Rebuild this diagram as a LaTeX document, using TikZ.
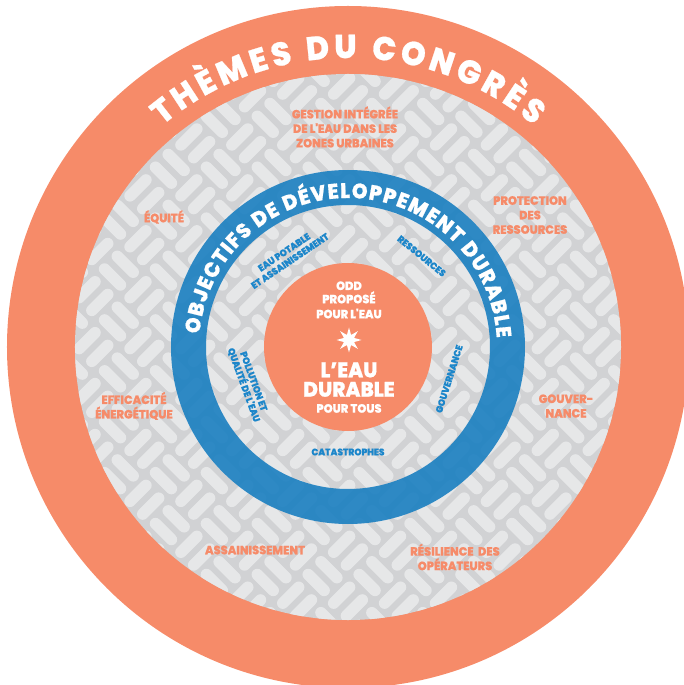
\documentclass[tikz,border=0pt]{standalone}
\usepackage{fontspec}
\setmainfont{Poppins}
\newfontfamily\heavy{Poppins ExtraBold}[FakeStretch=0.95,FakeBold=0.7]
\usetikzlibrary{decorations.text,shapes.geometric}
\definecolor{ora}{HTML}{F68B69}
\definecolor{bluering}{HTML}{1A7FC1}
\definecolor{bluetext}{HTML}{1C86CA}
\definecolor{graybg}{HTML}{D1D2D4}
\definecolor{pillc}{HTML}{E6E7E8}
\newcommand\pillgrid[1]{%
  \begin{scope}[rotate=45]
  \foreach \i in {-8,...,8}{\foreach \j in {-8,...,8}{%
    \pgfmathtruncatemacro\pp{mod(\i+\j+40,2)}%
    \ifnum\pp=0
      \draw[#1] (\i*36-11.25,\j*36-9) -- ++(22.5,0);
      \draw[#1] (\i*36-11.25,\j*36+9) -- ++(22.5,0);
    \else
      \draw[#1] (\i*36-9,\j*36-11.25) -- ++(0,22.5);
      \draw[#1] (\i*36+9,\j*36-11.25) -- ++(0,22.5);
    \fi
  }}
  \end{scope}}
\tikzset{
  pill/.style={draw=pillc, line width=11.5pt, line cap=round},
  theme/.style={text=ora, font=\heavy\fontsize{12}{14.5}\selectfont, align=center, inner sep=0pt},
  goal/.style={text=bluetext, font=\heavy\fontsize{9.5}{10.5}\selectfont, align=center, inner sep=0pt},
  coresmall/.style={text=white, font=\heavy\fontsize{12}{14}\selectfont, anchor=base, inner sep=0pt},
  corebig/.style={text=white, font=\heavy\fontsize{21}{22}\selectfont, anchor=base, inner sep=0pt}
}
\begin{document}
\begin{tikzpicture}[x=1pt,y=1pt]
\useasboundingbox (-348,-338) rectangle (336,347);
\clip (-348,-338) rectangle (336,347);
\coordinate (C) at (0,0);
% rings
\fill[ora] (C) circle (341);
\fill[graybg] (C) circle (273);
\begin{scope}
  \clip (C) circle (273);
  \pillgrid{pill}
\end{scope}
\fill[bluering, fill opacity=0.9, even odd rule] (C) circle (177) (C) circle (142);
\node[circle, fill=ora, minimum size=168pt, inner sep=0pt] (core) at (C) {};
% title on outer ring
\path[decorate, decoration={text along path, text color=white,
  text={|\heavy\fontsize{33}{33}\selectfont|THÈMES DU CONGRÈS},
  text align={fit to path}}]
  (130:289) arc[start angle=130, end angle=50, radius=289];
% title on blue ring
\path[decorate, decoration={text along path, text color=white,
  text={|\heavy\fontsize{21}{21}\selectfont|OBJECTIFS DE DÉVELOPPEMENT DURABLE},
  text align={fit to path}}]
  (175:149) arc[start angle=175, end angle=3.5, radius=149];
% congress themes
\node[theme] (gestion) at (-3,220) {GESTION INTÉGRÉE\\DE L'EAU DANS LES\\ZONES URBAINES};
\node[theme] (equite) at (-184,130) {ÉQUITÉ};
\node[theme] (protection) at (182,132) {PROTECTION\\DES\\RESSOURCES};
\node[theme] (efficacite) at (-214,-59) {EFFICACITÉ\\ÉNERGÉTIQUE};
\node[theme] (gouvtheme) at (218,-59) {GOUVER-\\NANCE};
\node[theme] (assain) at (-93,-203) {ASSAINISSEMENT};
\node[theme] (resilience) at (107,-210) {RÉSILIENCE\ \ DES\\OPÉRATEURS};
% sustainable development goals
\node[goal, rotate=34] (eaupot) at (124:109) {EAU POTABLE\\ET ASSAINISSEMENT};
\node[goal, rotate=-39] (ressources) at (51:117) {RESSOURCES};
\node[goal, rotate=-70] (pollution) at (200:106) {POLLUTION ET\\QUALITÉ DE L'EAU};
\node[goal, rotate=72.5] (gouvgoal) at (-17.5:106) {GOUVERNANCE};
\node[goal] (catas) at (-90:105) {CATASTROPHES};
% core
\node[coresmall] (odd) at (1,57) {ODD};
\node[coresmall] (propose) at (1,43.7) {PROPOSÉ};
\node[coresmall] (pourleau) at (1,28.7) {POUR L'EAU};
\node[star, star points=8, star point ratio=2.3, fill=white, minimum size=25pt, inner sep=0pt] (sparkle) at (1,7) {};
\node[corebig] (leau) at (1,-30.3) {L’EAU};
\node[corebig] (durable) at (1,-49.7) {DURABLE};
\node[coresmall] (pourtous) at (1,-65.7) {POUR TOUS};
\end{tikzpicture}
\end{document}
